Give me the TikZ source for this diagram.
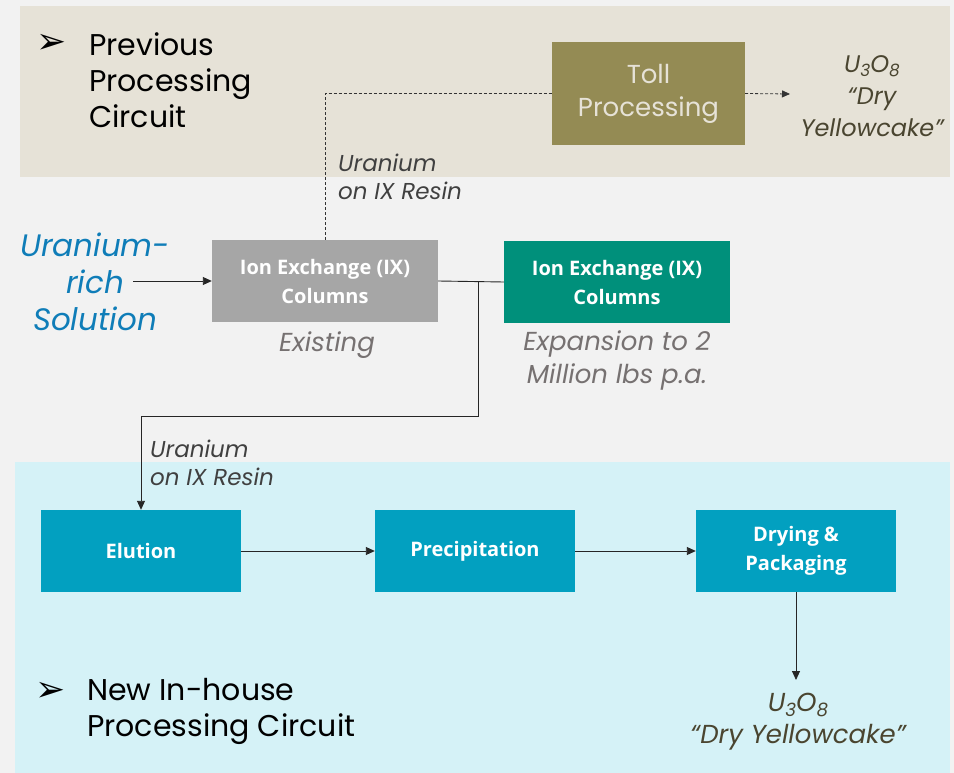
\documentclass[tikz,border=0pt]{standalone}
\usepackage{fontspec}
\setmainfont{Poppins}
\newfontfamily\boxfont{Open Sans}
\newfontfamily\symfont{DejaVu Sans}
\usetikzlibrary{arrows.meta}
\definecolor{pagegray}{HTML}{F2F2F2}
\definecolor{oldpanel}{HTML}{E6E2D7}
\definecolor{newpanel}{HTML}{D5F2F7}
\definecolor{tollcol}{HTML}{948B54}
\definecolor{oxcol}{HTML}{4A4530}
\definecolor{ixgray}{HTML}{A6A6A6}
\definecolor{ixgreen}{HTML}{00907B}
\definecolor{stepcol}{HTML}{02A0C0}
\definecolor{feedblue}{HTML}{0F7DB8}
\definecolor{notegray}{HTML}{767171}
\newcommand\lowdigit[1]{\raisebox{-0.35ex}{\scalebox{0.7}{#1}}}
\tikzset{
  stepbox/.style={fill=stepcol, text=white, minimum width=200pt, minimum height=82pt,
    align=center, font=\boxfont\bfseries\fontsize{20}{29}\selectfont},
  ixbox/.style={stepbox, minimum width=226pt},
  tollbox/.style={fill=tollcol, text=oldpanel, minimum width=193pt, minimum height=103pt,
    align=center, font=\fontsize{26}{33}\selectfont},
  heading/.style={inner sep=0pt, align=left, font=\fontsize{30}{36}\selectfont},
  note/.style={inner sep=0pt, text=notegray, font=\itshape\fontsize{26}{33}\selectfont},
  resin/.style={inner sep=0pt, align=left, text=black!75, font=\itshape\fontsize{23}{28}\selectfont},
  product/.style={inner sep=0pt, align=center, text=oxcol, font=\itshape\fontsize{24}{32}\selectfont},
  bullet/.style={inner sep=0pt, font=\symfont\bfseries\fontsize{36}{36}\selectfont},
  line/.style={line width=0.9pt, draw=black!85},
  flow/.style={line, -{Triangle[length=9pt,width=8pt]}},
  dashflow/.style={line width=0.8pt, draw=black!80, dash pattern=on 3pt off 2pt}
}
\begin{document}
\begin{tikzpicture}[x=1pt,y=-1pt]
\useasboundingbox (0,0) rectangle (954,773);
\fill[pagegray] (0,0) rectangle (954,773);
% panels
\fill[oldpanel] (20,6) rectangle (950,177);
\fill[newpanel] (15,462) rectangle (950,773);

% headings
\node[bullet] (b1) at (52,44) {➢};
\node[heading, anchor=west] (oldhead) at (89,80) {Previous\\Processing\\Circuit};
\node[bullet] (b2) at (51,692) {➢};
\node[heading, anchor=west] (newhead) at (87,711) {New In-house\\Processing Circuit};

% boxes
\node[tollbox] (toll) at (648.5,93.5) {Toll\\Processing};
\node[ixbox, fill=ixgray] (ixold) at (325,281) {Ion Exchange (IX)\\Columns};
\node[ixbox, fill=ixgreen] (ixnew) at (617,282) {Ion Exchange (IX)\\Columns};
\node[stepbox] (elution) at (141,551) {Elution};
\node[stepbox] (precip) at (475,551) {Precipitation};
\node[stepbox] (drying) at (796,551) {Drying \&\\Packaging};

% texts
\node[inner sep=0pt, align=center, text=feedblue, font=\itshape\fontsize{31}{37}\selectfont] (feed) at (95,282) {Uranium-\\rich\\Solution};
\node[note] (existing) at (327,345) {Existing};
\node[note, align=center] (expansion) at (617,360) {Expansion to 2\\Million lbs p.a.};
\node[resin, anchor=west] (resin1) at (338,177) {Uranium\\on IX Resin};
\node[resin, anchor=west] (resin2) at (150,463) {Uranium\\on IX Resin};
\node[product] (oxtop) at (872,96) {U\lowdigit{3}O\lowdigit{8}\\“Dry\\Yellowcake”};
\node[product, font=\itshape\fontsize{26}{32}\selectfont] (oxbottom) at (798,722) {U\lowdigit{3}O\lowdigit{8}\\“Dry Yellowcake”};

% connectors
\coordinate (feedend) at (133,281);
\coordinate (split) at (478,281);
\coordinate (turn) at (478,416);
\coordinate (tollout) at (790,94);
\coordinate (dryout) at (796,680);
\draw[flow] (feedend) -- (ixold.west);
\draw[line] (ixold.east) -- (ixnew.west);
\draw[flow] (split) -- (turn) -| (elution.north);
\draw[dashflow] (ixold.north) |- (toll.west);
\draw[dashflow, -{Triangle[length=8pt,width=7pt]}] (toll.east) -- (tollout);
\draw[flow] (elution) -- (precip);
\draw[flow] (precip) -- (drying);
\draw[flow] (drying) -- (dryout);
\end{tikzpicture}
\end{document}
